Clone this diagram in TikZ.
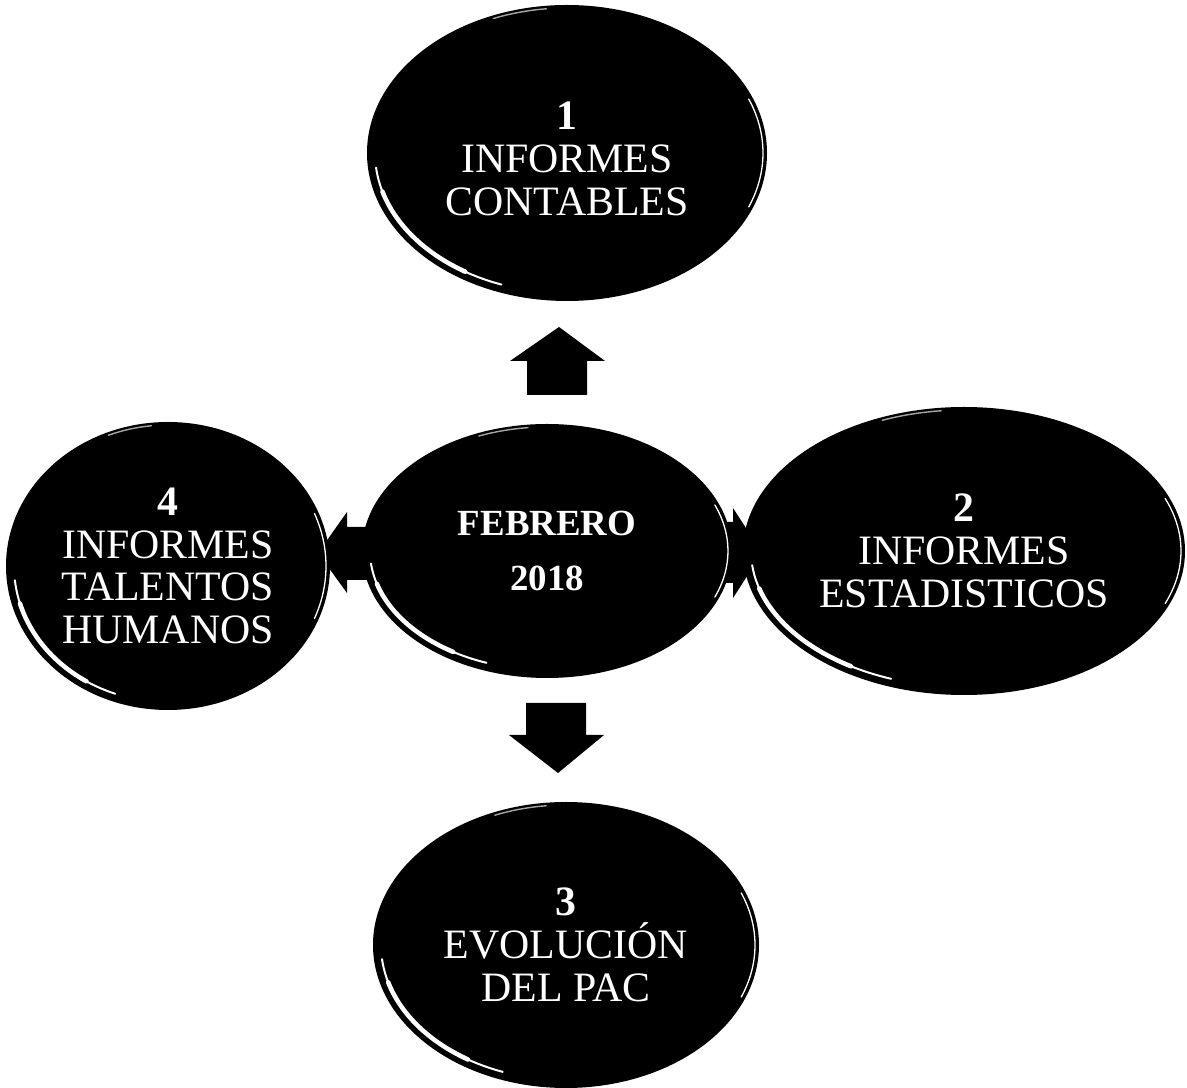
\documentclass[tikz,border=0pt]{standalone}
\usepackage{fontspec}
\setmainfont{Liberation Serif}
\usetikzlibrary{shapes.geometric,calc}
\tikzset{
  bubble/.style={ellipse, fill=black, inner sep=0pt, outer sep=0pt, text=white, align=center,
                 font=\fontsize{42}{43}\selectfont},
  blockarrow/.style={fill=black},
  shine/.style={draw=white, line cap=round},
  dullshine/.style={draw=black!35, line cap=round, line width=1.4bp},
}
\newcommand\glint[3]{%
  \draw[shine, line width=2bp] ([shift={(186:{#2-8} and {#3-8})}]#1.center)
     arc[start angle=186, end angle=250, x radius=#2-8, y radius=#3-8];
  \draw[shine, line width=4.5bp] ([shift={(196:{#2-8} and {#3-8})}]#1.center)
     arc[start angle=196, end angle=238, x radius=#2-8, y radius=#3-8];
  \draw[shine, line width=1.3bp] ([shift={(-22:{#2-4} and {#3-4})}]#1.center)
     arc[start angle=-22, end angle=22, x radius=#2-4, y radius=#3-4];
  \draw[dullshine] ([shift={(96:{#2-3} and {#3-3})}]#1.center)
     arc[start angle=96, end angle=112, x radius=#2-3, y radius=#3-3];
}
\begin{document}
\begin{tikzpicture}[x=1bp,y=1bp]
\useasboundingbox[fill=white] (0,0) rectangle (1187,1088);

% block arrows (drawn first, partly hidden by the ellipses)
\fill[blockarrow] (527,693) -- (527,727) -- (510,727) -- (559,761) -- (605,727) -- (587,727) -- (587,693) -- cycle;
\fill[blockarrow] (526,385) -- (586,385) -- (586,353) -- (604,353) -- (558,315) -- (509,353) -- (526,353) -- cycle;
\fill[blockarrow] (372,561) -- (347,561) -- (347,576) -- (318,535) -- (347,495) -- (347,508) -- (372,508) -- cycle;
\fill[blockarrow] (720,566) -- (733,566) -- (733,580) -- (762,535) -- (733,490) -- (733,505) -- (720,505) -- cycle;

% ellipses
\node[bubble, minimum width=400bp, minimum height=296bp] (n1) at (567,935)
  {\rule{0pt}{40bp}\textbf{1}\\INFORMES\\CONTABLES};
\node[bubble, minimum width=442bp, minimum height=288bp] (n2) at (964,537)
  {\textbf{2}\\INFORMES\\ESTADISTICOS};
\node[bubble, minimum width=386bp, minimum height=286bp] (n3) at (566,143)
  {\textbf{3}\\EVOLUCIÓN\\DEL PAC};
\node[bubble, minimum width=324bp, minimum height=288bp] (n4) at (168,522)
  {\textbf{4}\\INFORMES\\TALENTOS\\HUMANOS};
\node[bubble, minimum width=370bp, minimum height=254bp,
      font=\bfseries\fontsize{37}{56}\selectfont] (c) at (547,537)
  {FEBRERO\\2018};

% highlights
\glint{n1}{200}{148}
\glint{n2}{221}{144}
\glint{n3}{193}{143}
\glint{n4}{162}{144}
\glint{c}{185}{127}
\end{tikzpicture}
\end{document}
